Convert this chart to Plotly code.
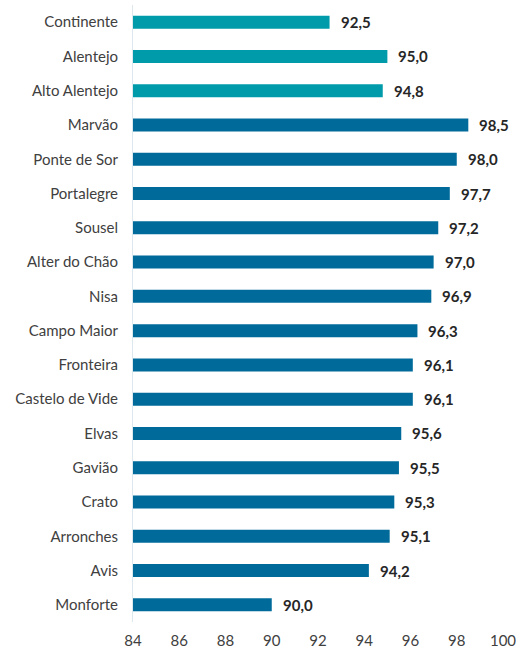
import plotly.graph_objects as go

categories = ["Continente", "Alentejo", "Alto Alentejo", "Marvão", "Ponte de Sor",
              "Portalegre", "Sousel", "Alter do Chão", "Nisa", "Campo Maior",
              "Fronteira", "Castelo de Vide", "Elvas", "Gavião", "Crato",
              "Arronches", "Avis", "Monforte"]
values = [92.5, 95.0, 94.8, 98.5, 98.0, 97.7, 97.2, 97.0, 96.9, 96.3,
          96.1, 96.1, 95.6, 95.5, 95.3, 95.1, 94.2, 90.0]
groups = ["ref"] * 3 + ["mun"] * 15
tick_vals = [84, 86, 88, 90, 92, 94, 96, 98, 100]

color_map = {"ref": "#009BAA", "mun": "#006B9A"}
colors = [color_map[g] for g in groups]

fig = go.Figure()
fig.add_trace(go.Bar(
    y=categories, x=[v - 84 for v in values], base=84, orientation="h",
    marker=dict(color=colors, line=dict(width=0)),
    hoverinfo="skip",
))

for c, v in zip(categories, values):
    fig.add_annotation(
        x=v, y=c, text="<b>" + f"{v:.1f}".replace(".", ",") + "</b>",
        xanchor="left", xshift=9, showarrow=False,
        font=dict(family="Lato, Open Sans, sans-serif", size=15, color="#262626"),
    )

fig.update_layout(
    width=516, height=652,
    margin=dict(l=133, r=13, t=5, b=30, autoexpand=False),
    paper_bgcolor="white", plot_bgcolor="white",
    bargap=0.62,
    showlegend=False,
    font=dict(family="Lato, Open Sans, sans-serif", size=15, color="#404040"),
    xaxis=dict(range=[84, 100], tickvals=tick_vals, showgrid=False, zeroline=False,
               showline=False, ticks="", ticklabelstandoff=8, automargin=False,
               ticklabeloverflow="allow",
               tickfont=dict(size=15, color="#404040")),
    yaxis=dict(categoryorder="array", categoryarray=categories[::-1],
               autorange=False, range=[-0.5, 17.5], automargin=False,
               showgrid=False, zeroline=False, showline=True,
               linecolor="#dde7ee", linewidth=1, ticks="",
               ticklabelstandoff=11,
               tickfont=dict(size=15, color="#404040")),
)

fig.write_html("out.html", config={"displayModeBar": False},
               post_script="document.body.style.margin='0';")
